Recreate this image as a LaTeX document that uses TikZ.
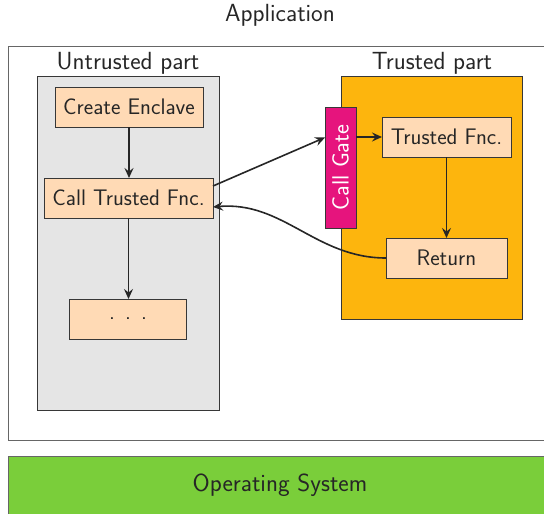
\documentclass[tikz,border=0pt]{standalone}
\usetikzlibrary{arrows.meta}
\definecolor{grayfill}{RGB}{229,229,229}
\definecolor{orangefill}{RGB}{253,181,13}
\definecolor{pinkfill}{RGB}{230,20,125}
\definecolor{peach}{RGB}{255,218,181}
\definecolor{osgreen}{RGB}{122,206,58}
\definecolor{edge}{RGB}{55,55,55}
\begin{document}
\begin{tikzpicture}[x=1pt,y=-1pt,
  font=\sffamily\fontsize{22.5}{27}\selectfont,
  every node/.style={inner sep=0pt, outer sep=0pt},
  region/.style={draw=edge, line width=0.8pt},
  stepbox/.style={draw=edge, line width=0.9pt, fill=peach, text=black!85},
  conn/.style={draw=black!85, line width=1.6pt, -{Stealth[length=10pt,width=9pt,inset=3.5pt]}},
  lbl/.style={text=black!85, font=\sffamily\fontsize{24.8}{29}\selectfont}
]
\useasboundingbox (0,0) rectangle (544,514);
% application box
\draw[draw=black!60, line width=0.9pt] (8,46) rectangle (560,440);
\node[lbl] (applbl) at (280,15) {Application};
% OS
\draw[draw=black!60, fill=osgreen, line width=0.9pt] (8,456) rectangle (560,530);
\node[lbl] (os) at (280,485) {Operating System};
% untrusted
\node[region, fill=grayfill, minimum width=182pt, minimum height=334pt] (untr) at (128,243) {};
\node[lbl] (untrlbl) at (128,63) {Untrusted part};
% trusted
\node[region, fill=orangefill, minimum width=181pt, minimum height=243pt] (tr) at (431.5,197.5) {};
\node[lbl] (trlbl) at (432,63) {Trusted part};
% steps
\node[stepbox, minimum width=148pt, minimum height=40pt] (create) at (129,107) {Create Enclave};
\node[stepbox, minimum width=169pt, minimum height=40pt] (call) at (128.5,198) {Call Trusted Fnc.};
\node[stepbox, minimum width=117pt, minimum height=40pt] (dots) at (128,319) {.\hspace{0.45em}.\hspace{0.45em}.};
\node[stepbox, minimum width=129pt, minimum height=40pt] (tfnc) at (446.5,137) {Trusted Fnc.};
\node[stepbox, minimum width=121pt, minimum height=40pt] (ret) at (446.5,258) {Return};
\node[draw=edge, line width=0.9pt, fill=pinkfill, text=white, minimum width=31pt, minimum height=121pt] (gate) at (340.5,167.5) {};
\node[text=white, rotate=90, font=\sffamily\fontsize{23.5}{28}\selectfont] (gatelbl) at (340.5,167.5) {Call Gate};
% connectors
\draw[conn] (create.south) -- (create.south |- call.north);
\draw[conn] (call.south) -- (call.south |- dots.north);
\draw[conn] ([yshift=12pt]call.east) -- ([yshift=30pt]gate.west);
\draw[conn] (gate.east |- tfnc.west) -- (tfnc.west);
\draw[conn] (tfnc.south) -- (ret.north);
\draw[conn] (ret.west) to[out=180, in=5] ([yshift=-9pt]call.east);
\end{tikzpicture}
\end{document}
